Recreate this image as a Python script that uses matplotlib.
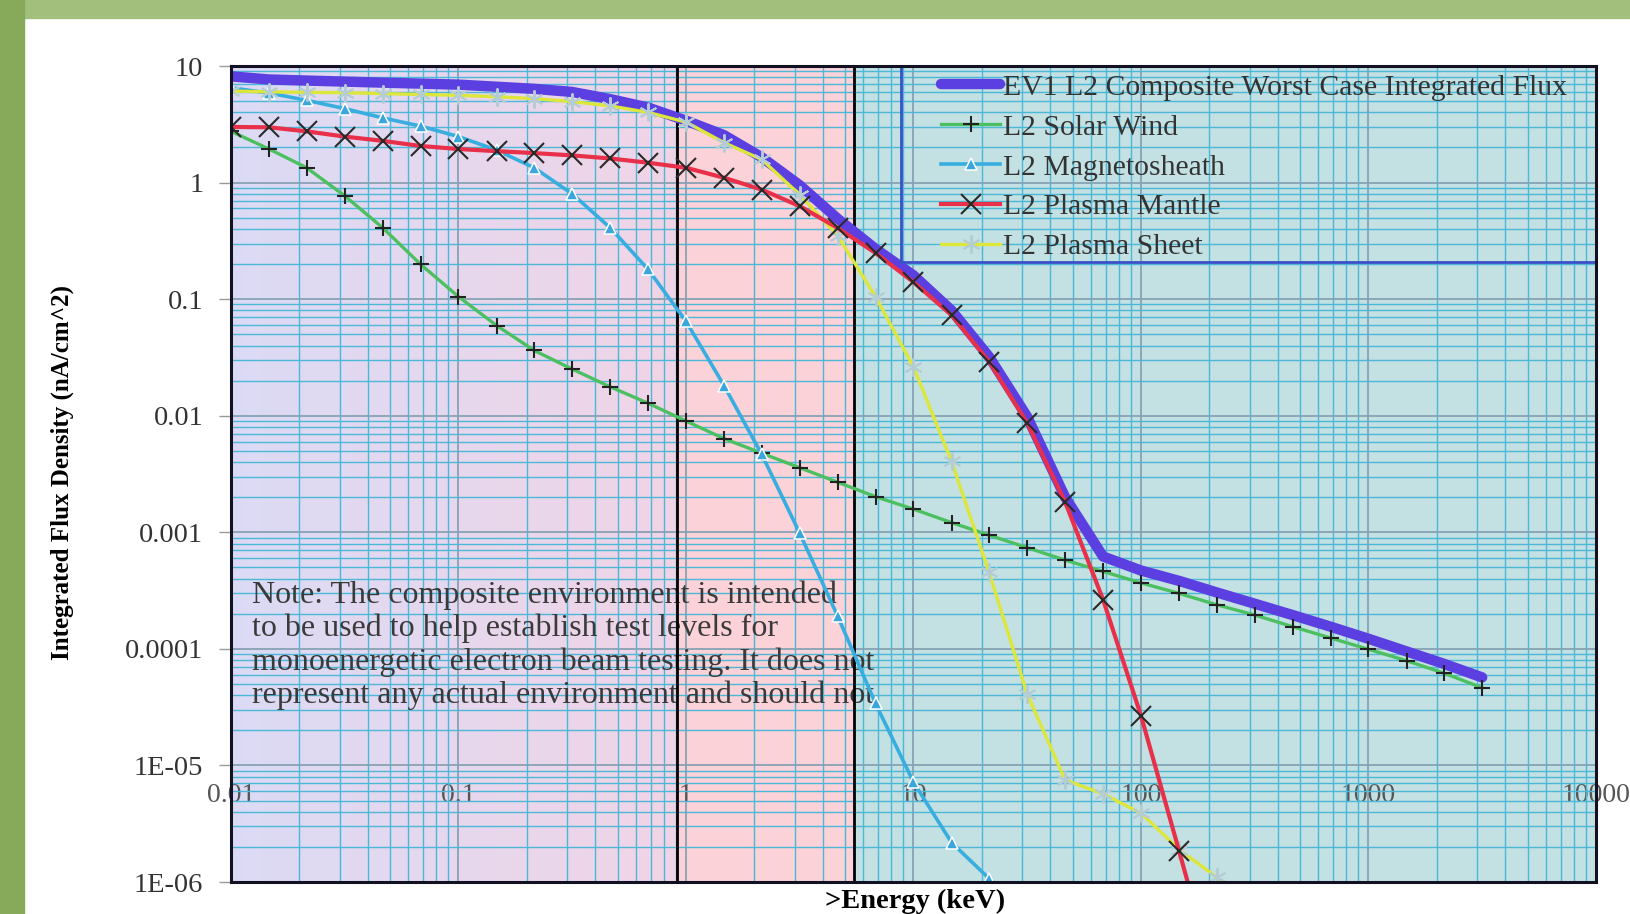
import numpy as np
import matplotlib
matplotlib.use("Agg")
import matplotlib.pyplot as plt
from matplotlib.patches import Rectangle
from matplotlib.ticker import FixedLocator, FixedFormatter, LogLocator, NullFormatter

# energie (keV), 6 points par decade
energy = [0.01, 0.0147, 0.0215, 0.0316, 0.0464, 0.0681, 0.1, 0.147, 0.215, 0.316,
          0.464, 0.681, 1.0, 1.47, 2.15, 3.16, 4.64, 6.81, 10, 14.7, 21.5, 31.6,
          46.4, 68.1, 100, 147, 215, 316, 464, 681, 1000, 1470, 2150, 3160]

composite = [8.15, 7.66, 7.50, 7.35, 7.20, 7.06, 6.92, 6.64, 6.37, 5.99, 5.2, 4.4,
             3.4, 2.55, 1.65, 0.95, 0.49, 0.27, 0.16, 0.08, 0.032, 0.0098, 0.002,
             0.00062, 0.00047, 0.000383, 0.000305, 0.000244, 0.000195, 0.000155,
             0.000122, 0.0000951, 0.0000743, 0.0000569]

solar_wind = [2.75, 1.94, 1.34, 0.77, 0.41, 0.199, 0.105, 0.0594, 0.0363, 0.0251,
              0.0177, 0.0128, 0.0090, 0.00636, 0.00477, 0.00358, 0.00269, 0.00202,
              0.00158, 0.00121, 0.000944, 0.000738, 0.000577, 0.000461, 0.000368,
              0.000299, 0.000239, 0.000195, 0.000155, 0.000124, 0.0000991,
              0.0000791, 0.0000618, 0.0000463]

magnetosheath = [6.5, 5.86, 5.08, 4.31, 3.59, 3.05, 2.48, 1.90, 1.34, 0.80, 0.41,
                 0.18, 0.0646, 0.0181, 0.00468, 0.000984, 0.000191, 0.000034,
                 0.00000718, 0.00000218, 0.00000107, 0.00000056]

plasma_mantle = [3.0, 2.98, 2.75, 2.48, 2.28, 2.06, 1.94, 1.86, 1.79, 1.71, 1.61,
                 1.48, 1.34, 1.10, 0.87, 0.628, 0.408, 0.249, 0.140, 0.0729,
                 0.0290, 0.00865, 0.00182, 0.000265, 0.0000267, 0.00000185,
                 0.000000126]

plasma_sheet = [6.1, 6.0, 5.95, 5.9, 5.8, 5.7, 5.6, 5.45, 5.25, 4.95, 4.55, 4.0,
                3.3, 2.2, 1.58, 0.787, 0.35, 0.105, 0.0262, 0.00405, 0.000452,
                0.000041, 0.0000075, 0.0000057, 0.0000039, 0.0000019, 0.0000011,
                0.00000064]

labels = ["EV1 L2 Composite Worst Case Integrated Flux", "L2 Solar Wind",
          "L2 Magnetosheath", "L2 Plasma Mantle", "L2 Plasma Sheet"]

x_ticks = [0.01, 0.1, 1, 10, 100, 1000, 10000]
x_ticklabels = ["0.01", "0.1", "1", "10", "100", "1000", "10000"]
y_ticks = [1e-6, 1e-5, 1e-4, 1e-3, 1e-2, 0.1, 1, 10]
y_ticklabels = ["1E-06", "1E-05", "0.0001", "0.001", "0.01", "0.1", "1", "10"]

note = ("Note: The composite environment is intended\n"
        "to be used to help establish test levels for\n"
        "monoenergetic electron beam testing. It does not\n"
        "represent any actual environment and should not")

plt.rcParams["font.family"] = ["Liberation Serif", "DejaVu Serif"]

W, H = 1631, 914
fig = plt.figure(figsize=(W / 100, H / 100), dpi=100)
fig.patch.set_facecolor("white")

# bandes vertes du cadre de diapo
fig.patches.append(Rectangle((0, 1 - 18 / H), 1, 18 / H, transform=fig.transFigure,
                             color="#a3bf7c", zorder=0))
fig.patches.append(Rectangle((0, 0), 24 / W, 1, transform=fig.transFigure,
                             color="#86a95a", zorder=0))

ax = fig.add_axes([231 / W, 1 - 882 / H, (1596 - 231) / W, (882 - 66) / H])
ax.set_xscale("log")
ax.set_yscale("log")
ax.set_xlim(0.01, 10000)
ax.set_ylim(1e-6, 10)
ax.set_facecolor("none")

# fonds colores
edges = np.logspace(-2, np.log10(0.912), 31)
c0 = np.array([0xdb, 0xda, 0xf4]) / 255
c1 = np.array([0xf0, 0xd4, 0xe6]) / 255
for i in range(30):
    t = i / 29
    ax.axvspan(edges[i], edges[i + 1], color=c0 * (1 - t) + c1 * t, lw=0, zorder=0.1)
ax.axvspan(0.912, 5.47, color="#fad2d8", lw=0, zorder=0.1)
ax.axvspan(5.47, 10000, color="#c3e1e3", lw=0, zorder=0.1)

# grille
ax.xaxis.set_major_locator(FixedLocator(x_ticks))
ax.xaxis.set_major_formatter(FixedFormatter(x_ticklabels))
ax.xaxis.set_minor_locator(LogLocator(base=10, subs=np.arange(2, 10), numticks=20))
ax.xaxis.set_minor_formatter(NullFormatter())
ax.yaxis.set_major_locator(FixedLocator(y_ticks))
ax.yaxis.set_major_formatter(FixedFormatter(y_ticklabels))
ax.yaxis.set_minor_locator(LogLocator(base=10, subs=np.arange(2, 10), numticks=20))
ax.yaxis.set_minor_formatter(NullFormatter())
ax.grid(True, which="major", color="#86a2b4", lw=1.3, zorder=0.5)
ax.grid(True, which="minor", color="#4cb8d8", lw=1.0, zorder=0.5)
for gl in ax.get_xgridlines() + ax.get_ygridlines():
    gl.set_zorder(0.5)

ax.tick_params(axis="x", which="both", length=0, pad=-71, labelsize=20,
               labelcolor="#555555")
ax.tick_params(axis="y", which="major", length=9, width=1, color="#999999",
               pad=11, labelsize=20.5, labelcolor="#333333")
ax.tick_params(axis="y", which="minor", length=0)

for s in ax.spines.values():
    s.set_color("#111122")
    s.set_linewidth(2.2)
    s.set_zorder(6)

# note
ax.text(0.0154, 0.369, note, transform=ax.transAxes, fontsize=23, color="#3a3a3a",
        va="top", ha="left", linespacing=1.16, zorder=2.5)

# lignes verticales noires
ax.axvline(0.912, color="black", lw=2, zorder=2.7)
ax.axvline(5.47, color="black", lw=2, zorder=2.7)

# courbes
ax.plot(energy, composite, color="#5b3fe0", lw=7.5, solid_capstyle="round",
        zorder=3, label=labels[0])
ax.plot(energy, solar_wind, color="#4cc060", lw=2.4, marker="+", ms=11, mew=1.5,
        mec="#222222", zorder=4, label=labels[1])
ax.plot(energy[:len(magnetosheath)], magnetosheath, color="#38aee0", lw=2.6,
        marker="^", ms=9, mfc="#3aa6dc", mec="white", mew=1.1, zorder=4,
        label=labels[2])
ax.plot(energy[:len(plasma_mantle)], plasma_mantle, color="#e8304a", lw=3,
        marker="x", ms=14, mew=1.5, mec="#2a2a2a", zorder=4.5, label=labels[3])
ax.plot(energy[:len(plasma_sheet)], plasma_sheet, color="#dde63a", lw=2.4,
        marker=(6, 2, 0), ms=13, mew=1.4, mec="#b4ccd4", zorder=4.2,
        label=labels[4])

# cadre de la legende
bx0 = (901 - 231) / 1365
by0 = (882 - 262) / 816
ax.add_patch(Rectangle((bx0, by0), 1 - bx0, 1 - by0, transform=ax.transAxes,
                       fill=False, ec="#3a50c8", lw=2, zorder=5))
leg = ax.legend(loc="upper left", bbox_to_anchor=((941 - 231) / 1365, (882 - 74) / 816),
                frameon=False, fontsize=21.4, handlelength=2.0, handletextpad=0.1,
                labelspacing=0.44, borderpad=0, borderaxespad=0)
for t in leg.get_texts():
    t.set_color("#333333")
leg.set_zorder(7)

fig.text(62 / W, 1 - 473 / H, "Integrated Flux Density (nA/cm^2)", rotation=90,
         ha="center", va="center", fontsize=18, fontweight="bold")
fig.text(915 / W, 1 - 901 / H, ">Energy (keV)", ha="center", va="center",
         fontsize=20.5, fontweight="bold")

fig.savefig("out.png", dpi=100)
